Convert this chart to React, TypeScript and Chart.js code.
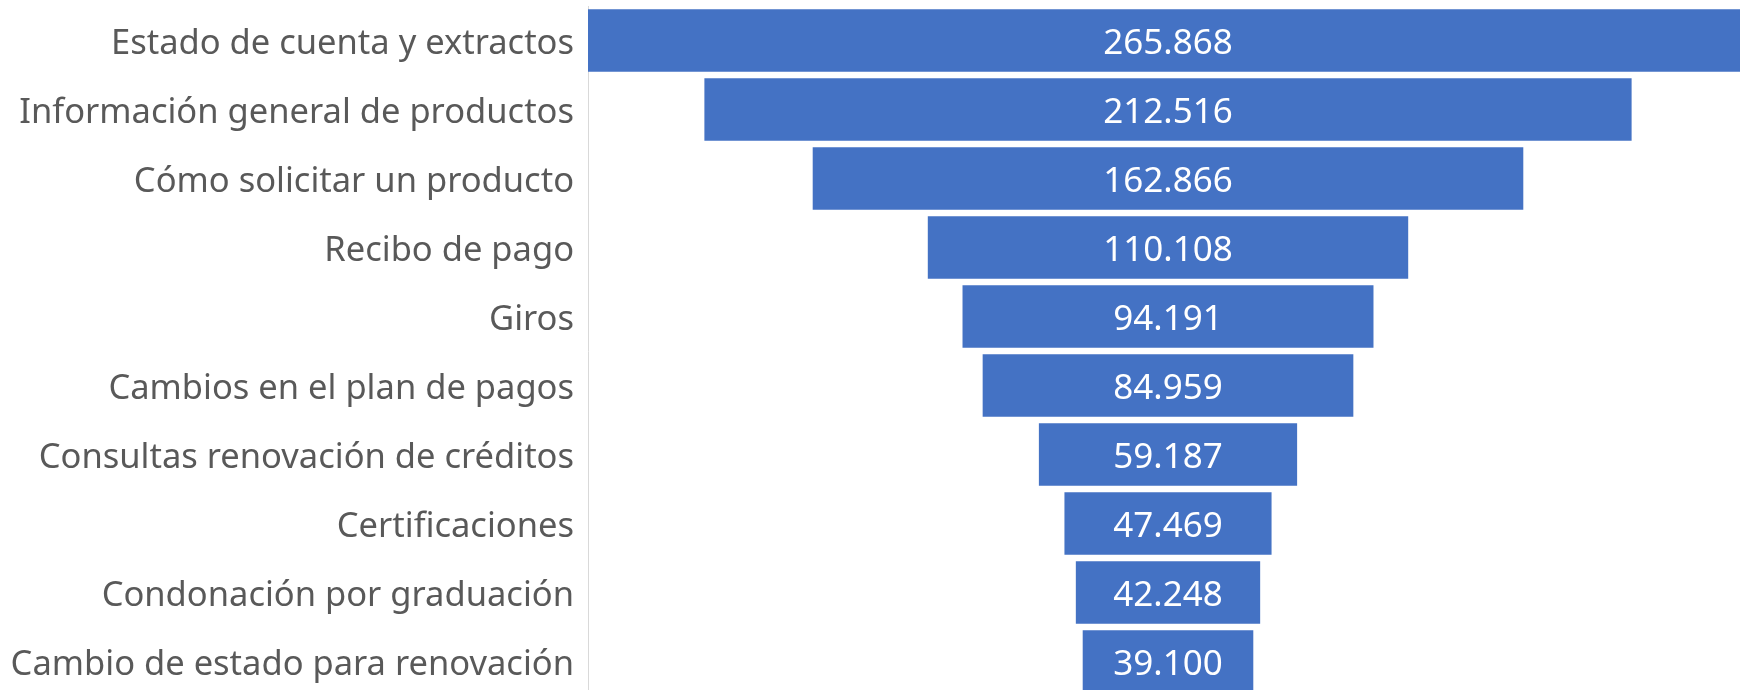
import React, { useEffect, useRef } from "react";
import { Chart, registerables } from "chart.js";

Chart.register(...registerables);

const categories: string[] = [
  "Estado de cuenta y extractos",
  "Información general de productos",
  "Cómo solicitar un producto",
  "Recibo de pago",
  "Giros",
  "Cambios en el plan de pagos",
  "Consultas renovación de créditos",
  "Certificaciones",
  "Condonación por graduación",
  "Cambio de estado para renovación",
];

const values: number[] = [265868, 212516, 162866, 110108, 94191, 84959, 59187, 47469, 42248, 39100];

const FONT = "'Noto Sans', 'Open Sans', sans-serif";
const BAR_COLOR = "#4472C4";

function fmt(v: number): string {
  return String(v).replace(/\B(?=(\d{3})+(?!\d))/g, ".");
}

const labelPlugin = {
  id: "funnelLabels",
  afterDatasetsDraw(chart: any) {
    const ctx = chart.ctx;
    const meta = chart.getDatasetMeta(0);
    ctx.save();
    ctx.fillStyle = "#FFFFFF";
    ctx.font = `35px ${FONT}`;
    ctx.textAlign = "center";
    ctx.textBaseline = "middle";
    meta.data.forEach((el: any, i: number) => {
      const cx = (el.x + el.base) / 2;
      ctx.fillText(fmt(values[i]), cx, el.y + 4);
    });
    ctx.restore();
  },
};

export default function App() {
  const ref = useRef<HTMLCanvasElement | null>(null);
  useEffect(() => {
    if (!ref.current) return;
    const maxV = Math.max(...values);
    const chart = new Chart(ref.current, {
      type: "bar",
      data: {
        labels: categories,
        datasets: [
          {
            data: values.map((v) => [-v / 2, v / 2]) as any,
            backgroundColor: BAR_COLOR,
            borderWidth: 0,
            barPercentage: 0.905,
            categoryPercentage: 1,
          },
        ],
      },
      options: {
        indexAxis: "y",
        animation: false,
        responsive: false,
        maintainAspectRatio: false,
        layout: { padding: { top: 6, right: 0, bottom: 0, left: 0 } },
        plugins: {
          legend: { display: false },
          tooltip: { enabled: false },
        },
        scales: {
          x: {
            display: false,
            min: -maxV / 2,
            max: maxV / 2,
          },
          y: {
            grid: { display: false, drawTicks: false },
            border: { display: true, color: "#D9D9D9", width: 1 },
            ticks: {
              color: "#595959",
              font: { family: FONT, size: 34.5 },
              padding: 14,
              labelOffset: 4,
              autoSkip: false,
            },
            afterFit(scale: any) {
              scale.width = 588;
              scale.paddingTop = 0;
              scale.paddingBottom = 0;
            },
          },
        },
      },
      plugins: [labelPlugin],
    });
    return () => chart.destroy();
  }, []);
  return (
    <div
      style={{
        position: "fixed",
        left: 0,
        top: 0,
        width: 1740,
        height: 690,
        overflow: "hidden",
        background: "#FFFFFF",
      }}
    >
      <canvas ref={ref} width={1748} height={696} style={{ display: "block" }} />
    </div>
  );
}
